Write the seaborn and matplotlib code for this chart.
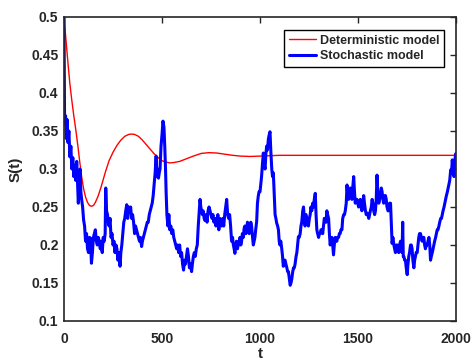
import matplotlib
matplotlib.use("Agg")
import matplotlib.pyplot as plt
import numpy as np
import pandas as pd
import seaborn as sns

# Deterministic solution S(t)
det_t = [0, 10, 20, 30, 40, 50, 60, 70, 80, 90, 100, 110, 120, 130, 140, 150, 160,
         175, 190, 210, 230, 250, 270, 290, 310, 330, 345, 360, 380, 400, 420, 440,
         460, 480, 500, 520, 540, 560, 590, 620, 660, 700, 740, 780, 820, 860, 900,
         950, 1000, 1100, 1200, 1400, 1600, 1800, 2000]
det_s = [0.5, 0.47, 0.44, 0.412, 0.39, 0.37, 0.352, 0.332, 0.31, 0.29, 0.274,
         0.263, 0.256, 0.252, 0.251, 0.252, 0.256, 0.265, 0.277, 0.295, 0.311,
         0.322, 0.331, 0.338, 0.343, 0.3455, 0.346, 0.3455, 0.343, 0.338, 0.332,
         0.326, 0.32, 0.315, 0.311, 0.309, 0.308, 0.3085, 0.31, 0.313, 0.317,
         0.3205, 0.3215, 0.321, 0.3195, 0.318, 0.317, 0.3165, 0.317, 0.318, 0.318,
         0.318, 0.318, 0.318, 0.318]

# One sample path of the stochastic model
sto_t = [0, 3, 8, 12, 16, 20, 25, 30, 35, 40, 45, 50, 55, 60, 65, 70, 73, 78, 82, 86,
         90, 95, 100, 105, 110, 115, 120, 125, 130, 135, 140, 145, 150, 155, 160, 165,
         170, 175, 180, 185, 190, 195, 200, 205, 210, 213, 217, 222, 226, 230, 235,
         240, 245, 250, 255, 260, 265, 270, 275, 280, 286, 290, 295, 300, 305, 310,
         315, 320, 325, 330, 335, 340, 345, 350, 355, 360, 365, 370, 375, 380, 385,
         390, 396, 400, 405, 410, 415, 420, 425, 430, 435, 440, 445, 450, 455, 460,
         465, 470, 474, 478, 482, 486, 490, 495, 500, 505, 510, 514, 518, 521, 525,
         530, 535, 540, 545, 550, 555, 560, 565, 570, 575, 580, 585, 590, 595, 600,
         605, 610, 615, 620, 625, 630, 635, 640, 645, 651, 655, 660, 665, 670, 675,
         680, 685, 690, 694, 698, 702, 706, 710, 715, 720, 725, 730, 735, 740, 745,
         750, 755, 760, 765, 770, 775, 780, 785, 790, 795, 800, 805, 810, 815, 820,
         825, 830, 835, 840, 845, 850, 855, 860, 864, 868, 872, 876, 880, 885, 889,
         894, 898, 902, 906, 910, 915, 919, 923, 928, 932, 936, 940, 945, 949, 953,
         957, 962, 966, 970, 974, 978, 983, 987, 991, 995, 1000, 1004, 1008, 1012,
         1017, 1021, 1026, 1030, 1034, 1038, 1043, 1047, 1051, 1055, 1060, 1064, 1068,
         1072, 1077, 1081, 1085, 1090, 1094, 1098, 1102, 1106, 1111, 1115, 1119, 1124,
         1128, 1132, 1137, 1141, 1145, 1150, 1154, 1158, 1162, 1167, 1171, 1175, 1179,
         1184, 1188, 1192, 1196, 1200, 1205, 1209, 1213, 1218, 1222, 1226, 1230, 1235,
         1239, 1243, 1247, 1252, 1256, 1260, 1264, 1269, 1273, 1277, 1282, 1286, 1290,
         1294, 1299, 1303, 1307, 1311, 1316, 1320, 1324, 1328, 1333, 1337, 1341, 1345,
         1350, 1354, 1358, 1362, 1367, 1371, 1375, 1379, 1384, 1388, 1392, 1396, 1401,
         1405, 1409, 1413, 1418, 1422, 1427, 1431, 1435, 1440, 1444, 1448, 1452, 1456,
         1461, 1465, 1469, 1473, 1478, 1482, 1486, 1490, 1495, 1499, 1503, 1507, 1512,
         1516, 1520, 1525, 1529, 1533, 1538, 1542, 1546, 1550, 1555, 1559, 1563, 1568,
         1572, 1576, 1580, 1585, 1589, 1593, 1597, 1601, 1606, 1610, 1614, 1619, 1623,
         1627, 1631, 1636, 1640, 1644, 1648, 1653, 1657, 1661, 1666, 1670, 1674, 1678,
         1683, 1687, 1691, 1695, 1700, 1704, 1708, 1712, 1717, 1721, 1725, 1728, 1731,
         1734, 1738, 1742, 1746, 1751, 1755, 1759, 1763, 1768, 1772, 1776, 1780, 1785,
         1789, 1793, 1797, 1802, 1806, 1810, 1814, 1819, 1823, 1827, 1832, 1836, 1840,
         1844, 1849, 1853, 1857, 1862, 1866, 1870, 1874, 1879, 1883, 1887, 1891, 1896,
         1900, 1904, 1908, 1913, 1917, 1922, 1926, 1930, 1934, 1939, 1943, 1947, 1951,
         1956, 1960, 1964, 1968, 1973, 1977, 1981, 1985, 1990, 1994, 1998, 2000]
sto_s = [0.5, 0.36, 0.37, 0.34, 0.365, 0.335, 0.35, 0.316, 0.33, 0.30, 0.315, 0.29,
         0.305, 0.285, 0.31, 0.275, 0.255, 0.28, 0.30, 0.27, 0.26, 0.25, 0.233, 0.225,
         0.205, 0.215, 0.195, 0.19, 0.21, 0.209, 0.176, 0.19, 0.21, 0.215, 0.22, 0.205,
         0.2, 0.21, 0.205, 0.195, 0.205, 0.19, 0.21, 0.205, 0.215, 0.275, 0.245, 0.24,
         0.23, 0.225, 0.235, 0.21, 0.215, 0.2, 0.205, 0.19, 0.2, 0.195, 0.18, 0.19,
         0.172, 0.19, 0.2, 0.215, 0.23, 0.235, 0.245, 0.253, 0.235, 0.25, 0.245, 0.25,
         0.235, 0.24, 0.23, 0.215, 0.225, 0.22, 0.215, 0.21, 0.205, 0.21, 0.198, 0.205,
         0.21, 0.215, 0.22, 0.225, 0.23, 0.23, 0.24, 0.245, 0.25, 0.255, 0.265, 0.28,
         0.295, 0.317, 0.29, 0.3, 0.288, 0.295, 0.3, 0.33, 0.345, 0.363, 0.355, 0.33,
         0.3, 0.27, 0.24, 0.225, 0.24, 0.22, 0.225, 0.215, 0.22, 0.21, 0.205, 0.2,
         0.195, 0.2, 0.19, 0.2, 0.185, 0.19, 0.175, 0.167, 0.18, 0.175, 0.185, 0.195,
         0.185, 0.17, 0.175, 0.165, 0.175, 0.185, 0.19, 0.185, 0.195, 0.2, 0.225, 0.245,
         0.26, 0.25, 0.245, 0.24, 0.245, 0.235, 0.232, 0.24, 0.23, 0.245, 0.25, 0.245,
         0.24, 0.235, 0.24, 0.23, 0.235, 0.225, 0.23, 0.24, 0.22, 0.235, 0.23, 0.225,
         0.235, 0.225, 0.24, 0.25, 0.26, 0.24, 0.235, 0.24, 0.225, 0.205, 0.21, 0.2,
         0.195, 0.189, 0.2, 0.205, 0.195, 0.2, 0.205, 0.21, 0.2, 0.205, 0.215, 0.21,
         0.222, 0.225, 0.215, 0.22, 0.23, 0.225, 0.215, 0.22, 0.23, 0.225, 0.21, 0.2,
         0.205, 0.21, 0.22, 0.231, 0.255, 0.264, 0.27, 0.27, 0.28, 0.29, 0.305, 0.321,
         0.305, 0.3, 0.32, 0.33, 0.325, 0.34, 0.345, 0.349, 0.325, 0.3, 0.29, 0.295,
         0.27, 0.24, 0.235, 0.229, 0.225, 0.22, 0.205, 0.2, 0.205, 0.195, 0.185, 0.172,
         0.18, 0.18, 0.175, 0.17, 0.165, 0.165, 0.155, 0.147, 0.15, 0.155, 0.165, 0.17,
         0.17, 0.175, 0.185, 0.19, 0.2, 0.211, 0.21, 0.215, 0.225, 0.23, 0.245, 0.25,
         0.235, 0.225, 0.24, 0.235, 0.23, 0.225, 0.235, 0.24, 0.25, 0.245, 0.255, 0.25,
         0.26, 0.268, 0.24, 0.22, 0.215, 0.21, 0.215, 0.215, 0.22, 0.22, 0.215, 0.225,
         0.235, 0.235, 0.23, 0.245, 0.24, 0.235, 0.215, 0.2, 0.205, 0.21, 0.2, 0.187,
         0.2, 0.21, 0.205, 0.205, 0.21, 0.21, 0.215, 0.215, 0.22, 0.22, 0.235, 0.24,
         0.24, 0.245, 0.255, 0.279, 0.265, 0.26, 0.27, 0.275, 0.265, 0.26, 0.275, 0.29,
         0.27, 0.255, 0.26, 0.26, 0.255, 0.25, 0.255, 0.26, 0.25, 0.245, 0.255, 0.265,
         0.255, 0.245, 0.24, 0.242, 0.24, 0.235, 0.24, 0.245, 0.25, 0.26, 0.255, 0.245,
         0.24, 0.245, 0.26, 0.292, 0.27, 0.255, 0.26, 0.265, 0.275, 0.27, 0.26, 0.255,
         0.265, 0.265, 0.26, 0.25, 0.245, 0.245, 0.255, 0.255, 0.23, 0.202, 0.21, 0.2,
         0.195, 0.19, 0.2, 0.2, 0.195, 0.19, 0.2, 0.205, 0.195, 0.19, 0.23, 0.185,
         0.185, 0.18, 0.18, 0.17, 0.161, 0.175, 0.185, 0.19, 0.2, 0.2, 0.195, 0.18,
         0.17, 0.18, 0.185, 0.19, 0.19, 0.2, 0.21, 0.215, 0.215, 0.21, 0.205, 0.21,
         0.21, 0.2, 0.195, 0.2, 0.2, 0.205, 0.21, 0.2, 0.18, 0.185, 0.19, 0.195, 0.2,
         0.205, 0.21, 0.215, 0.22, 0.22, 0.225, 0.23, 0.235, 0.235, 0.24, 0.245, 0.25,
         0.255, 0.26, 0.265, 0.27, 0.275, 0.28, 0.285, 0.299, 0.295, 0.312, 0.3, 0.29,
         0.31, 0.32, 0.315]

x_ticks = [0, 500, 1000, 1500, 2000]
y_ticks = [0.1, 0.15, 0.2, 0.25, 0.3, 0.35, 0.4, 0.45, 0.5]
y_tick_labels = ["0.1", "0.15", "0.2", "0.25", "0.3", "0.35", "0.4", "0.45", "0.5"]

sns.set_theme(style="white")
plt.rcParams["font.family"] = ["Liberation Sans", "DejaVu Sans"]
plt.rcParams["font.weight"] = "bold"

ink = "#262626"

fig = plt.figure(figsize=(4.72, 3.63), dpi=100)
ax = fig.add_axes([64 / 472, 42 / 363, 392 / 472, 304 / 363])

det_df = pd.DataFrame({"t": det_t, "S": det_s})
sto_df = pd.DataFrame({"t": sto_t, "S": sto_s})

sns.lineplot(data=det_df, x="t", y="S", ax=ax, color="#ff0000", linewidth=1.0,
             sort=False, estimator=None, label="Deterministic model")
sns.lineplot(data=sto_df, x="t", y="S", ax=ax, color="#0000ff", linewidth=2.2,
             sort=False, estimator=None, label="Stochastic model")

ax.set_xlim(0, 2000)
ax.set_ylim(0.1, 0.5)
ax.set_xticks(x_ticks)
ax.set_xticklabels([str(v) for v in x_ticks])
ax.set_yticks(y_ticks)
ax.set_yticklabels(y_tick_labels)

ax.tick_params(axis="both", which="major", direction="in", length=4, width=1,
               colors=ink, labelsize=10, top=True, right=True)
ax.tick_params(axis="x", pad=8)
ax.tick_params(axis="y", pad=4)
for lbl in ax.get_xticklabels() + ax.get_yticklabels():
    lbl.set_fontweight("bold")
    lbl.set_color(ink)

for sp in ax.spines.values():
    sp.set_visible(True)
    sp.set_color(ink)
    sp.set_linewidth(1.2)

ax.set_xlabel("t", fontsize=11, fontweight="bold", color=ink, labelpad=1)
ax.set_ylabel("S(t)", fontsize=11, fontweight="bold", color=ink, labelpad=6)

leg = ax.legend(loc="upper right", bbox_to_anchor=(0.975, 0.965), frameon=True,
                fancybox=False, framealpha=1, edgecolor="black",
                prop={"weight": "bold", "size": 9}, handlelength=2.2,
                handletextpad=0.3, borderpad=0.35, labelspacing=0.3,
                borderaxespad=0.2)
leg.get_frame().set_linewidth(1.0)

fig.savefig("out.png", dpi=100)
